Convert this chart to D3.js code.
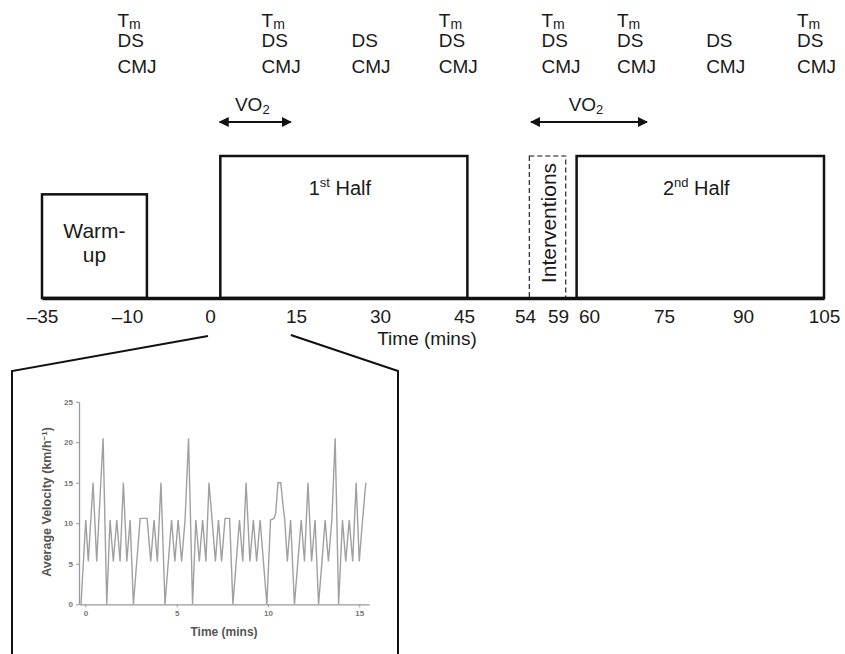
<!DOCTYPE html>
<meta charset="utf-8">
<style>
  body { margin: 0; background: #fff; }
  svg { display: block; font-family: "Liberation Sans", Arial, sans-serif; }
</style>
<body>
<script src="https://d3js.org/d3.v7.min.js"></script>
<script>
  // time axis (minutes) - the axis is broken, so each tick gets its own stop
  var tickValues = [-35, -10, 0, 15, 30, 45, 54, 59, 60, 75, 90, 105];
  var tickStops = [42, 127, 210, 296, 380, 464, 525, 558, 589, 664, 743, 824];

  // match phases
  var phaseNames = ["Warm-up", "1st Half", "Interventions", "2nd Half"];
  var phaseStart = [-35, 1.8, 54.65, 59.6];
  var phaseEnd = [-7.6, 45.5, 59.25, 105];
  var phaseLevel = [0.73, 1, 1, 1];

  // measurement columns (left edge, minutes) and whether Tm was taken
  var measureTime = [-12.8, 9.0, 24.9, 40.5, 56.5, 65.6, 83.0, 100.0];
  var measureTm = [true, true, false, true, true, true, false, true];

  // VO2 sampling windows
  var vo2Start = [1.7, 54.9];
  var vo2End = [14.1, 71.6];

  // inset: first 15 minutes, average velocity
  var zoomWindow = [0, 14.1];
  var velTime = [-0.24, 0.02, 0.16, 0.42, 0.62, 0.97, 1.17, 1.35, 1.53, 1.72, 1.9, 2.08, 2.27, 2.45, 2.63,
    3.0, 3.38, 3.58, 3.76, 3.94, 4.14, 4.36, 4.72, 4.9, 5.08, 5.27, 5.46, 5.65, 5.87,
    6.05, 6.24, 6.42, 6.6, 6.77, 6.94, 7.12, 7.29, 7.46, 7.65, 7.9, 8.08,
    8.44, 8.62, 8.8, 9.01, 9.2, 9.38, 9.57, 9.75, 9.94,
    10.14, 10.33, 10.42, 10.55, 10.7, 10.82, 10.92, 11.06, 11.24, 11.45,
    11.64, 11.82, 12.0, 12.19, 12.39, 12.58, 12.77, 12.96, 13.13, 13.31, 13.5, 13.68, 13.87,
    14.08, 14.26, 14.45, 14.64, 14.83, 15.0, 15.18, 15.36];
  var velValue = [0, 10.4, 5.3, 15, 5.3, 20.5, 0, 10.4, 5.3, 10.4, 5.3, 15, 5.3, 10.4, 0,
    10.6, 10.6, 5.3, 10.4, 5.3, 15, 0, 10.4, 5.3, 10.4, 5.3, 10.4, 20.5, 0,
    10.4, 5.3, 10.4, 5.3, 15, 10.4, 5.3, 10.4, 5.3, 10.6, 10.6, 0,
    10.4, 5.3, 15, 5.3, 10.4, 5.3, 10.4, 5.3, 0,
    10.4, 10.6, 11.2, 15, 15, 12.3, 10.4, 5.3, 10.4, 0,
    5.3, 10.4, 5.3, 15, 5.3, 10.4, 0, 5.3, 10.4, 5.3, 10.4, 20.5, 0,
    10.4, 5.3, 10.4, 5.3, 15, 5.3, 10.4, 15];
  var velTicksX = [0, 5, 10, 15];
  var velTicksY = [0, 5, 10, 15, 20, 25];

  var width = 845,
    height = 654,
    baseY = 298,
    topY = 156;

  var svg = d3.select("body").append("svg")
    .attr("width", width)
    .attr("height", height);

  var x = d3.scaleLinear()
    .domain(tickValues)
    .range(tickStops);

  var level = d3.scaleLinear()
    .domain([0, 1])
    .range([baseY, topY]);

  var phases = phaseNames.map(function (name, i) {
    return { name: name, start: phaseStart[i], end: phaseEnd[i], level: phaseLevel[i] };
  });

  // boxes
  svg.selectAll(".phase")
    .data(phases)
    .enter()
    .append("rect")
    .attr("class", "phase")
    .attr("x", function (d) { return x(d.start); })
    .attr("y", function (d) { return level(d.level); })
    .attr("width", function (d) { return x(d.end) - x(d.start); })
    .attr("height", function (d) { return level(0) - level(d.level); })
    .attr("fill", "none")
    .attr("stroke", "#111")
    .attr("stroke-width", function (d) { return d.name == "Interventions" ? 1.1 : 2.5; })
    .attr("stroke-dasharray", function (d) { return d.name == "Interventions" ? "5,3" : null; });

  // time axis
  var timeAxis = d3.axisBottom(x)
    .tickValues(tickValues)
    .tickSize(0)
    .tickSizeOuter(0)
    .tickPadding(11.5)
    .tickFormat(function (d) { return d < 0 ? "\u2013" + Math.abs(d) : d; });

  var gAxis = svg.append("g")
    .attr("transform", "translate(0," + baseY + ")")
    .call(timeAxis);
  gAxis.attr("font-family", null).attr("font-size", null);
  gAxis.select(".domain").attr("stroke", "#111").attr("stroke-width", 3.5);
  gAxis.selectAll("text").attr("font-size", 19).attr("fill", "#1a1a1a");

  svg.append("text")
    .attr("x", 427)
    .attr("y", 345)
    .attr("text-anchor", "middle")
    .attr("font-size", 19)
    .attr("fill", "#1a1a1a")
    .text("Time (mins)");

  // phase labels
  var wu = phases[0];
  svg.append("text")
    .attr("x", (x(wu.start) + x(wu.end)) / 2)
    .attr("y", level(wu.level) + 44)
    .attr("text-anchor", "middle")
    .attr("font-size", 21)
    .attr("fill", "#1a1a1a")
    .text("Warm-");
  svg.append("text")
    .attr("x", (x(wu.start) + x(wu.end)) / 2)
    .attr("y", level(wu.level) + 68)
    .attr("text-anchor", "middle")
    .attr("font-size", 21)
    .attr("fill", "#1a1a1a")
    .text("up");

  [[phases[1], "1", "st"], [phases[3], "2", "nd"]].forEach(function (p) {
    var t = svg.append("text")
      .attr("x", (x(p[0].start) + x(p[0].end)) / 2 - 4)
      .attr("y", level(p[0].level) + 39)
      .attr("text-anchor", "middle")
      .attr("font-size", 20)
      .attr("fill", "#1a1a1a");
    t.append("tspan").text(p[1]);
    t.append("tspan").attr("font-size", 13).attr("dy", -8).text(p[2]);
    t.append("tspan").attr("dy", 8).text(" Half");
  });

  var iv = phases[2];
  svg.append("text")
    .attr("transform", "translate(" + ((x(iv.start) + x(iv.end)) / 2 + 1) + ",223) rotate(-90)")
    .attr("text-anchor", "middle")
    .attr("dominant-baseline", "central")
    .attr("font-size", 21)
    .attr("fill", "#1a1a1a")
    .text("Interventions");

  // measurement columns
  var cols = svg.selectAll(".measure")
    .data(measureTime.map(function (t, i) { return { t: t, tm: measureTm[i] }; }))
    .enter()
    .append("g")
    .attr("class", "measure")
    .attr("transform", function (d) { return "translate(" + x(d.t) + ",0)"; })
    .attr("font-size", 19)
    .attr("fill", "#1a1a1a");

  cols.filter(function (d) { return d.tm; })
    .append("text")
    .attr("y", 27)
    .call(function (t) {
      t.append("tspan").text("T");
      t.append("tspan").attr("font-size", 14).attr("dy", 1.5).text("m");
    });
  cols.append("text").attr("y", 47).text("DS");
  cols.append("text").attr("y", 73).text("CMJ");

  // VO2 arrows
  var defs = svg.append("defs");
  defs.append("marker")
    .attr("id", "head")
    .attr("viewBox", "0 0 10 10")
    .attr("refX", 9)
    .attr("refY", 5)
    .attr("markerWidth", 5)
    .attr("markerHeight", 5)
    .attr("orient", "auto-start-reverse")
    .attr("markerUnits", "strokeWidth")
    .append("path")
    .attr("d", "M0,0L10,5L0,10z")
    .attr("fill", "#111");

  var vo2 = svg.selectAll(".vo2")
    .data(vo2Start.map(function (s, i) { return [s, vo2End[i]]; }))
    .enter()
    .append("g")
    .attr("class", "vo2");

  vo2.append("line")
    .attr("x1", function (d) { return x(d[0]); })
    .attr("x2", function (d) { return x(d[1]); })
    .attr("y1", 122)
    .attr("y2", 122)
    .attr("stroke", "#111")
    .attr("stroke-width", 2)
    .attr("marker-start", "url(#head)")
    .attr("marker-end", "url(#head)");

  vo2.append("text")
    .attr("x", function (d) { return (x(d[0]) + x(d[1])) / 2 - 3; })
    .attr("y", 111)
    .attr("text-anchor", "middle")
    .attr("font-size", 19)
    .attr("fill", "#1a1a1a")
    .call(function (t) {
      t.append("tspan").text("VO");
      t.append("tspan").attr("font-size", 13).attr("dy", 3).text("2");
    });

  // zoom connectors and inset frame
  var frameLeft = 12,
    frameRight = 398,
    frameTop = 371;

  svg.append("path")
    .attr("d", d3.line()([[x(zoomWindow[0]) - 2, 336], [frameLeft, frameTop], [frameLeft, height + 5]]))
    .attr("fill", "none")
    .attr("stroke", "#111")
    .attr("stroke-width", 2);
  svg.append("path")
    .attr("d", d3.line()([[x(zoomWindow[1]), 335], [frameRight, frameTop], [frameRight, height + 5]]))
    .attr("fill", "none")
    .attr("stroke", "#111")
    .attr("stroke-width", 2);

  // inset chart
  var xi = d3.scaleLinear().domain([-0.35, 15.55]).range([79, 369.3]);
  var yi = d3.scaleLinear().domain([0, 25]).range([604.3, 401.7]);

  var gx = svg.append("g")
    .attr("transform", "translate(0," + yi(0) + ")")
    .call(d3.axisBottom(xi).tickValues(velTicksX).tickSize(3).tickSizeOuter(0).tickPadding(3));
  var gy = svg.append("g")
    .attr("transform", "translate(" + xi.range()[0] + ",0)")
    .call(d3.axisLeft(yi).tickValues(velTicksY).tickSize(3).tickSizeOuter(0).tickPadding(3));

  [gx, gy].forEach(function (g) {
    g.attr("font-family", null);
    g.select(".domain").attr("stroke", "#999").attr("stroke-width", 1.3);
    g.selectAll(".tick line").attr("stroke", "#999");
    g.selectAll("text").attr("font-size", 8).attr("font-weight", "bold").attr("fill", "#777");
  });

  svg.append("path")
    .datum(velTime.map(function (t, i) { return [t, velValue[i]]; }))
    .attr("d", d3.line()
      .x(function (d) { return xi(d[0]); })
      .y(function (d) { return yi(d[1]); }))
    .attr("fill", "none")
    .attr("stroke", "#a0a0a0")
    .attr("stroke-width", 1.4)
    .attr("stroke-linejoin", "miter");

  svg.append("text")
    .attr("x", 224)
    .attr("y", 636)
    .attr("text-anchor", "middle")
    .attr("font-size", 12)
    .attr("font-weight", "bold")
    .attr("fill", "#555")
    .text("Time (mins)");

  svg.append("text")
    .attr("transform", "translate(51,502) rotate(-90)")
    .attr("text-anchor", "middle")
    .attr("font-size", 12.5)
    .attr("font-weight", "bold")
    .attr("fill", "#555")
    .call(function (t) {
      t.append("tspan").text("Average Velocity (km/h");
      t.append("tspan").attr("font-size", 8).attr("dy", -4).text("\u22121");
      t.append("tspan").attr("dy", 4).text(")");
    });
</script>
